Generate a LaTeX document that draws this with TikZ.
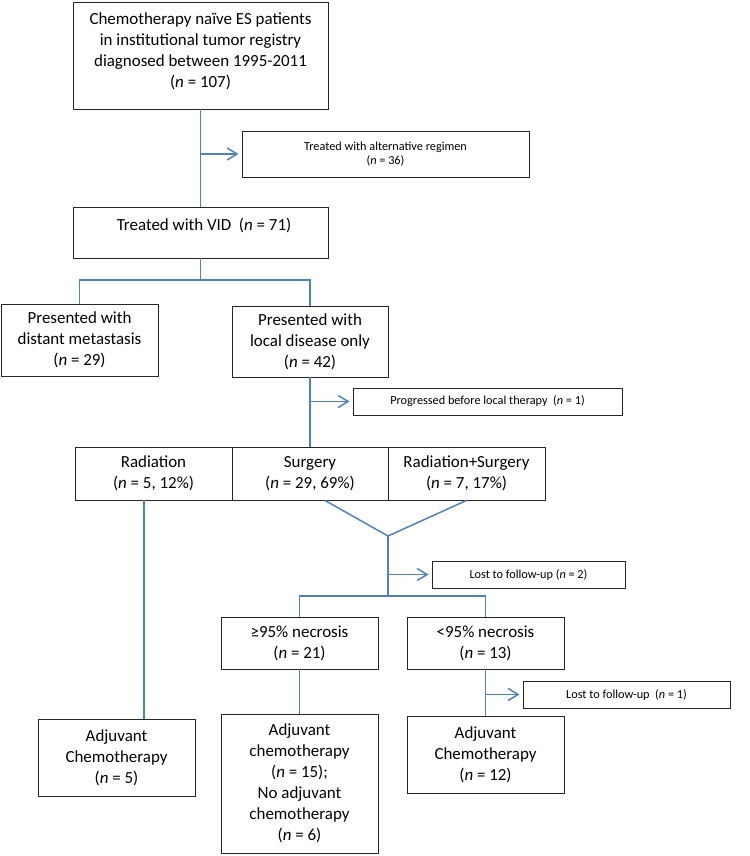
\documentclass[tikz,border=0pt]{standalone}
\usepackage{fontspec}
\setmainfont{Carlito}
\usetikzlibrary{arrows.meta,calc}
\definecolor{connblue}{RGB}{79,129,189}
\newcommand{\nv}{\textit{n}}
\begin{document}
\begin{tikzpicture}[x=1bp,y=-1bp,
  box/.style={draw=black!85, line width=0.9bp, inner sep=0pt, align=center, font=\fontsize{17}{21}\selectfont},
  smallbox/.style={box, font=\fontsize{12.3}{14.5}\selectfont},
  txt/.style={inner sep=0pt, align=center, font=\fontsize{17}{21}\selectfont},
  link/.style={draw=connblue, line width=1.5bp},
  arr/.style={link, -{Straight Barb[length=10bp,width=12bp]}, shorten >=3bp}]

\useasboundingbox (0,0) rectangle (750,856);

% boxes
\node[box, minimum width=255bp, minimum height=107bp] (b1) at (200.5,55.5) {};
\node[txt] (t1) at (200.5,51) {Chemotherapy naïve ES patients\\in institutional tumor registry\\diagnosed between 1995-2011\\(\nv{} = 107)};
\node[smallbox, minimum width=287bp, minimum height=46bp] (alt) at (385.5,154) {Treated with alternative regimen\\(\nv{} = 36)};
\node[box, minimum width=255bp, minimum height=51bp] (b2) at (200.5,232.5) {};
\node[txt] (t2) at (204,225) {Treated with VID~~(\nv{} = 71)};
\node[box, minimum width=157bp, minimum height=72bp] (b3) at (79.5,340) {Presented with\\distant metastasis\\(\nv{} = 29)};
\node[box, minimum width=156bp, minimum height=71bp] (b4) at (310,341.5) {Presented with\\local disease only\\(\nv{} = 42)};
\node[smallbox, minimum width=269bp, minimum height=27bp] (prog) at (487.5,401.5) {Progressed before local therapy~~(\nv{} = 1)};
\node[box, minimum width=157bp, minimum height=53bp] (r1) at (153.5,473.5) {Radiation\\(\nv{} = 5, 12\%)};
\node[box, minimum width=156bp, minimum height=53bp] (r2) at (310,473.5) {Surgery\\(\nv{} = 29, 69\%)};
\node[box, minimum width=157bp, minimum height=53bp] (r3) at (466.5,473.5) {Radiation+Surgery\\(\nv{} = 7, 17\%)};
\node[smallbox, minimum width=193bp, minimum height=27bp] (lost2) at (528.5,574.5) {Lost to follow-up (\nv{} = 2)};
\node[box, minimum width=157bp, minimum height=52bp] (n1) at (299.5,643) {≥95\% necrosis\\(\nv{} = 21)};
\node[box, minimum width=157bp, minimum height=52bp] (n2) at (485.5,643) {<95\% necrosis\\(\nv{} = 13)};
\node[smallbox, minimum width=207bp, minimum height=27bp] (lost1) at (626.5,694.5) {Lost to follow-up~~(\nv{} = 1)};
\node[box, minimum width=157bp, minimum height=77bp] (a5) at (116.5,757.5) {Adjuvant\\Chemotherapy\\(\nv{} = 5)};
\node[box, minimum width=157bp, minimum height=139bp] (a15) at (299.5,783.5) {Adjuvant\\chemotherapy\\(\nv{} = 15);\\No adjuvant\\chemotherapy\\(\nv{} = 6)};
\node[box, minimum width=157bp, minimum height=77bp] (a12) at (485.5,754.5) {Adjuvant\\Chemotherapy\\(\nv{} = 12)};

% connectors
\draw[link] (b1.south) -- (b2.north);
\draw[arr] (b1.south |- alt.west) -- (alt.west);
\coordinate (j1) at (200.5,280);
\draw[link] (b2.south) -- (j1);
\draw[link] (b3.north) |- (j1) -| (b4.north);
\draw[link] (b4.south) -- (r2.north);
\draw[arr] (b4.south |- prog.west) -- (prog.west);
\coordinate (rs) at ($(r1.south)+(-9.5,0)$);
\draw[link] (rs) -- (rs |- a5.north);
\coordinate (apex) at (388,536);
\draw[link] ($(r2.south)+(15,0)$) -- (apex) -- (r3.south);
\coordinate (j2) at (388,596);
\draw[link] (apex) -- (j2);
\draw[arr] (apex |- lost2.west) -- (lost2.west);
\draw[link] (n1.north) |- (j2) -| (n2.north);
\draw[link] (n1.south) -- (a15.north);
\draw[link] (n2.south) -- (a12.north);
\draw[arr] (n2.south |- lost1.west) -- (lost1.west);
\end{tikzpicture}
\end{document}
